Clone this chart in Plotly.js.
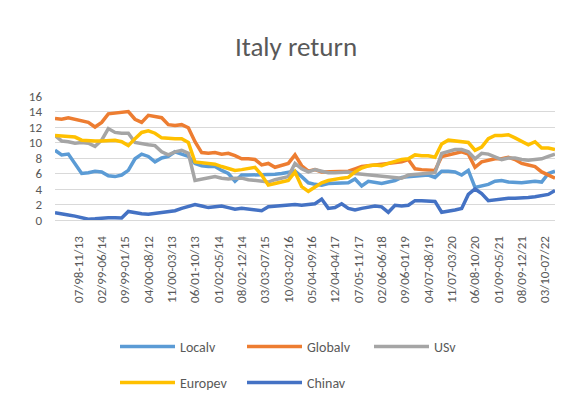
<!DOCTYPE html>
<html>
<head>
<meta charset="utf-8">
<script src="https://cdn.plot.ly/plotly-3.0.1.min.js"></script>
<style>
  html, body { margin: 0; padding: 0; background: #fff; }
  #chart { width: 578px; height: 408px; }
</style>
</head>
<body>
<div id="chart"></div>
<script>
// Month index of each reading (rolling window position)
const monthIdx = [
  0,2,4,6,8,10,12,14,16,18,
  20,22,24,26,28,30,32,34,36,38,
  40,42,44,46,48,50,52,54,56,58,
  60,62,64,66,68,70,72,74,76,78,
  80,82,84,86,88,90,92,94,96,98,
  100,102,104,106,108,110,112,114,116,118,
  120,122,124,126,128,130,132,134,136,138,
  140,142,144,146,148,150
];

const Localv = [
  9.0,8.4,8.5,7.2,6.0,6.1,6.3,6.2,5.7,5.6,
  5.8,6.4,7.9,8.5,8.2,7.5,8.0,8.2,8.8,8.5,
  8.2,7.3,7.0,6.9,6.9,6.4,6.0,5.0,5.8,5.8,
  5.8,5.8,5.9,5.9,6.0,6.1,6.3,5.6,4.8,4.6,
  4.5,4.7,4.7,4.8,4.8,5.3,4.4,5.0,4.9,4.7,
  4.9,5.1,5.5,5.6,5.6,5.7,5.8,5.5,6.3,6.3,
  6.2,5.8,6.4,4.2,4.4,4.6,5.0,5.1,4.9,4.8,
  4.8,4.9,5.0,4.9,6.0,6.3
];

const Globalv = [
  13.1,13.0,13.2,13.0,12.8,12.6,12.0,12.6,13.7,13.8,
  14.0,14.0,13.0,12.6,13.5,13.3,13.2,12.3,12.2,12.3,
  11.9,10.1,8.7,8.6,8.7,8.5,8.6,8.3,7.9,7.9,
  7.8,7.1,7.3,6.8,7.1,7.3,8.4,7.0,6.3,6.5,
  6.2,6.2,6.2,6.3,6.3,6.6,6.9,7.0,7.1,7.1,
  7.2,7.3,7.5,7.8,6.6,6.5,6.5,6.4,8.2,8.4,
  8.6,8.8,8.5,6.8,7.5,7.7,7.9,7.9,8.1,7.8,
  7.3,7.1,6.9,6.2,5.8,5.4
];

const USv = [
  10.9,10.2,10.1,9.9,10.0,9.9,9.5,10.3,11.8,11.3,
  11.2,11.2,10.0,9.8,9.7,9.6,8.8,8.4,8.8,9.0,
  8.6,5.1,5.3,5.5,5.6,5.4,5.3,5.4,5.4,5.2,
  5.1,5.0,4.9,5.2,5.4,5.6,7.3,6.6,6.2,6.5,
  6.3,6.1,6.1,6.2,6.2,6.0,5.9,5.8,5.8,5.7,
  5.6,5.5,5.4,5.8,5.9,6.0,6.0,6.1,8.6,8.8,
  9.1,9.1,8.8,7.9,8.6,8.5,8.2,7.8,8.0,8.0,
  7.8,7.7,7.8,7.9,8.2,8.5
];

const Europev = [
  10.9,10.8,10.8,10.7,10.3,10.2,10.2,10.2,10.3,10.3,
  10.1,9.6,10.5,11.3,11.5,11.2,10.6,10.5,10.5,10.5,
  10.0,7.5,7.4,7.3,7.2,6.9,6.6,6.4,6.5,6.7,
  6.8,5.8,4.5,4.7,4.9,5.1,6.2,4.3,3.7,4.2,
  4.8,5.1,5.3,5.4,5.5,6.2,6.7,7.0,7.1,7.0,
  7.3,7.6,7.8,7.9,8.4,8.3,8.3,8.1,9.8,10.3,
  10.2,10.1,10.0,9.0,9.4,10.5,10.9,10.9,11.0,10.6,
  10.2,9.7,10.1,9.3,9.3,9.1
];

const Chinav = [
  0.95,0.85,0.65,0.5,0.3,0.1,0.15,0.25,0.3,0.3,
  0.25,1.1,0.9,0.8,0.75,0.85,0.9,1.0,1.2,1.5,
  1.8,2.0,1.8,1.6,1.7,1.8,1.6,1.4,1.5,1.4,
  1.3,1.2,1.7,1.8,1.9,1.9,2.0,1.9,2.0,2.1,
  2.7,1.5,1.6,2.1,1.5,1.3,1.5,1.7,1.8,1.7,
  1.0,1.9,1.8,1.9,2.5,2.5,2.4,2.4,1.0,1.1,
  1.3,1.5,3.3,4.0,3.4,2.5,2.6,2.8,2.8,2.8,
  2.8,2.9,3.0,3.1,3.3,3.8
];

const tickPos = [7,14,21,28,35,42,49,56,63,70,77,84,91,98,105,112,119,126,133,140,147];
const tickLabels = [
  "07/98-11/13","02/99-06/14","09/99-01/15","04/00-08/12","11/00-03/13",
  "06/01-10/13","01/02-05/14","08/02-12/14","03/03-07/15","10/03-02/16",
  "05/04-09/16","12/04-04/17","07/05-11/17","02/06-06/18","09/06-01/19",
  "04/07-08/19","11/07-03/20","06/08-10/20","01/09-05/21","08/09-12/21",
  "03/10-07/22"
];

const FONT = "Carlito, Calibri, Lato, sans-serif";
const TXT = "#595959";
const LW = 3.5;

function tr(name, y, color, legend) {
  return {
    type: "scatter", mode: "lines", name: name,
    x: monthIdx, y: y,
    line: { color: color, width: LW },
    legend: legend,
    hoverinfo: "skip"
  };
}

const data = [
  tr("Localv", Localv, "#5B9BD5", "legend"),
  tr("Globalv", Globalv, "#ED7D31", "legend"),
  tr("USv", USv, "#A5A5A5", "legend"),
  tr("Europev", Europev, "#FFC000", "legend2"),
  tr("Chinav", Chinav, "#4472C4", "legend2")
];

const legendCommon = {
  orientation: "h",
  xref: "container", yref: "container",
  xanchor: "left", yanchor: "middle",
  x: 115 / 578,
  font: { family: FONT, size: 14, color: TXT },
  itemwidth: 55,
  entrywidth: 57,
  entrywidthmode: "pixels",
  bgcolor: "rgba(0,0,0,0)",
  borderwidth: 0,
  traceorder: "normal"
};

const layout = {
  width: 578, height: 408,
  paper_bgcolor: "#fff", plot_bgcolor: "#fff",
  font: { family: FONT, color: TXT },
  margin: { l: 55, r: 23, t: 96, b: 188, pad: 0 },
  title: {
    text: "Italy return",
    font: { family: FONT, size: 27, color: TXT },
    xref: "container", yref: "container",
    x: 296 / 578, xanchor: "center",
    y: 1 - 47 / 408, yanchor: "middle"
  },
  xaxis: {
    type: "linear",
    range: [0, 150],
    tickmode: "array",
    tickvals: tickPos,
    ticktext: tickLabels,
    tickangle: -90,
    ticks: "",
    showgrid: false,
    zeroline: false,
    showline: true, linecolor: "#D9D9D9", linewidth: 1,
    tickfont: { family: FONT, size: 13, color: TXT },
    ticklabelstandoff: 10,
    fixedrange: true
  },
  yaxis: {
    range: [0, 16],
    dtick: 2,
    tick0: 0,
    ticks: "",
    showgrid: true, gridcolor: "#D9D9D9", gridwidth: 1,
    zeroline: true, zerolinecolor: "#D9D9D9", zerolinewidth: 1,
    showline: false,
    tickfont: { family: FONT, size: 13, color: TXT },
    ticklabelstandoff: 12,
    fixedrange: true
  },
  showlegend: true,
  legend: Object.assign({}, legendCommon, { y: 1 - 347 / 408 }),
  legend2: Object.assign({}, legendCommon, { y: 1 - 383 / 408 })
};

Plotly.newPlot("chart", data, layout, { displayModeBar: false, staticPlot: true });
</script>
</body>
</html>
